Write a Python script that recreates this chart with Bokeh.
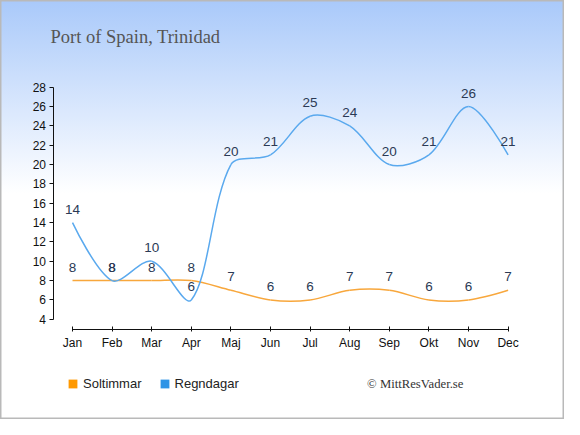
import numpy as np
from bokeh.plotting import figure
from bokeh.models import Range1d, FixedTicker, Legend, LegendItem, Label, ColumnDataSource
from bokeh.core.properties import value
from bokeh.embed import file_html
from bokeh.resources import INLINE

months = ["Jan", "Feb", "Mar", "Apr", "Maj", "Jun", "Jul", "Aug", "Sep", "Okt", "Nov", "Dec"]
soltimmar = [8, 8, 8, 8, 7, 6, 6, 7, 7, 6, 6, 7]
regndagar = [14, 8, 10, 6, 20, 21, 25, 24, 20, 21, 26, 21]
y_ticks = list(range(4, 29, 2))

SUN_LINE = "#f8a73c"
RAIN_LINE = "#5aa9ee"
SUN_KEY = "#ff9900"
RAIN_KEY = "#2f94e6"
LABEL_COL = "#2b3a55"

W, H = 564, 419
# pixel geometry of the plotting area (figure pixels)
JAN_X, DEC_X = 72.0, 507.6
Y28, Y4 = 86.7, 318.8
XPX = (DEC_X - JAN_X) / 11
YPX = (Y4 - Y28) / 24

x0 = -JAN_X / XPX
x1 = 11 + (W - DEC_X) / XPX
y1 = 28 + Y28 / YPX
y0 = 4 - (H - Y4) / YPX

p = figure(width=W, height=H, output_backend="svg", toolbar_location=None,
           x_range=Range1d(x0, x1), y_range=Range1d(y0, y1),
           min_border=0)
p.border_fill_color = None
p.background_fill_color = None
p.outline_line_color = "#b9b9b9"
p.outline_line_width = 2
p.grid.visible = False
p.styles = {"background-image": "linear-gradient(180deg, #a9c9fa 0px, #ffffff 193px)"}

# axes
xa = p.xaxis[0]
xa.fixed_location = 4 - (328.5 - Y4) / YPX
xa.ticker = FixedTicker(ticks=list(range(12)))
xa.major_label_overrides = {i: m for i, m in enumerate(months)}
xa.bounds = (0, 11)
xa.minor_tick_line_color = None
xa.major_tick_in = 3
xa.major_tick_out = 2
xa.axis_line_color = "#111111"
xa.major_tick_line_color = "#111111"
xa.major_label_text_font = "Liberation Sans"
xa.major_label_text_font_size = "12px"
xa.major_label_text_color = "#111111"
xa.major_label_standoff = 5

ya = p.yaxis[0]
ya.fixed_location = -(JAN_X - 52.5) / XPX
ya.ticker = FixedTicker(ticks=y_ticks)
ya.bounds = (4, 28)
ya.minor_tick_line_color = None
ya.major_tick_in = 0
ya.major_tick_out = 4
ya.axis_line_color = "#111111"
ya.major_tick_line_color = "#111111"
ya.major_label_text_font = "Liberation Sans"
ya.major_label_text_font_size = "12px"
ya.major_label_text_color = "#111111"
ya.major_label_standoff = 3


def bezier_source(vals, t=0.32):
    xs = np.arange(len(vals), dtype=float)
    ys = np.asarray(vals, dtype=float)
    px, py = xs * XPX, ys * YPX
    n = len(vals)
    cb = [(px[i], py[i]) for i in range(n)]
    ca = [(px[i], py[i]) for i in range(n)]
    for i in range(1, n - 1):
        dx, dy = px[i + 1] - px[i - 1], py[i + 1] - py[i - 1]
        d01 = np.hypot(px[i] - px[i - 1], py[i] - py[i - 1])
        d12 = np.hypot(px[i + 1] - px[i], py[i + 1] - py[i])
        fa = t * d01 / (d01 + d12)
        fb = t * d12 / (d01 + d12)
        cb[i] = (px[i] - fa * dx, py[i] - fa * dy)
        ca[i] = (px[i] + fb * dx, py[i] + fb * dy)
    return ColumnDataSource(dict(
        x0=xs[:-1], y0=ys[:-1], x1=xs[1:], y1=ys[1:],
        cx0=[ca[i][0] / XPX for i in range(n - 1)], cy0=[ca[i][1] / YPX for i in range(n - 1)],
        cx1=[cb[i + 1][0] / XPX for i in range(n - 1)], cy1=[cb[i + 1][1] / YPX for i in range(n - 1)],
    ))


p.bezier(x0="x0", y0="y0", x1="x1", y1="y1", cx0="cx0", cy0="cy0", cx1="cx1", cy1="cy1",
         source=bezier_source(soltimmar), line_color=SUN_LINE, line_width=1.5)
p.bezier(x0="x0", y0="y0", x1="x1", y1="y1", cx0="cx0", cy0="cy0", cx1="cx1", cy1="cy1",
         source=bezier_source(regndagar), line_color=RAIN_LINE, line_width=1.5)

# value labels
xs = list(range(12))
for vals in (soltimmar, regndagar):
    p.text(x=xs, y=vals, text=[str(v) for v in vals], y_offset=-13.5,
           text_align="center", text_baseline="middle",
           text_font=value("Liberation Sans"), text_font_size="13.5px", text_color=LABEL_COL)

# legend keys (proxy renderers without visible data)
nan = [float("nan")]
r_sun = p.quad(left=nan, right=nan, top=nan, bottom=nan, fill_color=SUN_KEY, line_color=None)
r_rain = p.quad(left=nan, right=nan, top=nan, bottom=nan, fill_color=RAIN_KEY, line_color=None)
legend = Legend(items=[LegendItem(label="Soltimmar", renderers=[r_sun]),
                       LegendItem(label="Regndagar", renderers=[r_rain])],
                orientation="horizontal", location=(67, H - 391.3),
                glyph_width=11, glyph_height=11, label_standoff=5, spacing=17,
                padding=0, margin=0, border_line_color=None, background_fill_alpha=0,
                label_text_font="Liberation Sans", label_text_font_size="13px",
                label_text_color="#222222", label_height=16)
p.add_layout(legend, "center")

p.add_layout(Label(x=50, y=H - 36.9, x_units="screen", y_units="screen",
                   text="Port of Spain, Trinidad",
                   text_font="Liberation Serif", text_font_size="18.5px", text_color="#555555",
                   text_baseline="alphabetic"))
p.add_layout(Label(x=366.6, y=H - 383.3, x_units="screen", y_units="screen",
                   text="© MittResVader.se",
                   text_font="Liberation Serif", text_font_size="12.7px", text_color="#333333",
                   text_baseline="middle"))

open("out.html", "w").write(file_html(p, INLINE))
